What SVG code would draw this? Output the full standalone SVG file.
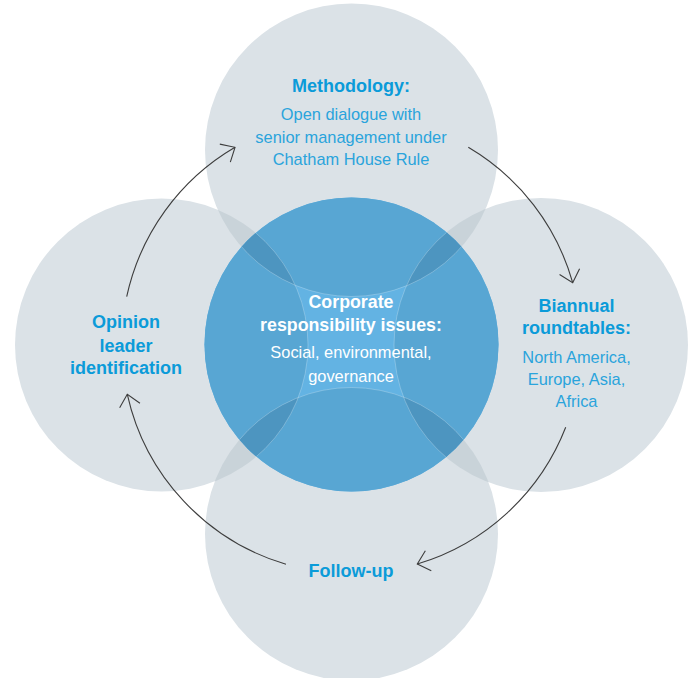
<svg xmlns="http://www.w3.org/2000/svg" width="689" height="678" viewBox="0 0 689 678">
  <style>
    .disc { fill: #dbe2e7; }
    .disc-pair { fill: #c9d3d9; }
    .core { fill: #63b3e3; }
    .core-one { fill: #58a6d3; }
    .core-two { fill: #4d95c0; }
    .seam { fill: none; stroke: #ffffff; stroke-opacity: 0.35; stroke-width: 0.7; }
    .head { font-family: "Liberation Sans", Arial, sans-serif; font-weight: bold; font-size: 18px; fill: #0b9bd9; text-anchor: middle; }
    .body { font-family: "Liberation Sans", Arial, sans-serif; font-size: 16.4px; fill: #2aa4dc; text-anchor: middle; }
    .core-head { font-family: "Liberation Sans", Arial, sans-serif; font-weight: bold; font-size: 17.8px; fill: #ffffff; text-anchor: middle; }
    .core-body { font-family: "Liberation Sans", Arial, sans-serif; font-size: 16.4px; fill: #ffffff; text-anchor: middle; }
    .flow { fill: none; stroke: #3d3d3d; stroke-width: 1.1; marker-end: url(#open-arrow); }
  </style>
  <defs>
    <clipPath id="clip-top"><circle cx="351.5" cy="150" r="146.5"/></clipPath>
    <clipPath id="clip-left"><circle cx="161.5" cy="345" r="146.5"/></clipPath>
    <clipPath id="clip-right"><circle cx="541" cy="345" r="147"/></clipPath>
    <clipPath id="clip-bottom"><circle cx="351.5" cy="534" r="146.5"/></clipPath>
    <clipPath id="clip-core"><circle cx="351.5" cy="344.5" r="147"/></clipPath>
    <marker id="open-arrow" markerUnits="userSpaceOnUse" markerWidth="30" markerHeight="30" refX="0" refY="0" viewBox="-16 -15 20 30" orient="auto" overflow="visible">
      <path d="M-11.5,-10.4 L0,0 L-11.5,10.4" fill="none" stroke="#3d3d3d" stroke-width="1.1"/>
    </marker>
  </defs>

  <!-- outer discs with their labels -->
  <g id="node-methodology">
    <circle class="disc" cx="351.5" cy="150" r="146.5"/>
    <text class="head" x="351" y="92">Methodology:</text>
    <text class="body" x="351" y="119.5">Open dialogue with</text>
    <text class="body" x="351" y="142.5">senior management under</text>
    <text class="body" x="351" y="165">Chatham House Rule</text>
  </g>
  <g id="node-opinion-leader">
    <circle class="disc" cx="161.5" cy="345" r="146.5"/>
    <text class="head" x="126" y="328.3">Opinion</text>
    <text class="head" x="126" y="351.7">leader</text>
    <text class="head" x="126" y="374.3">identification</text>
  </g>
  <g id="node-roundtables">
    <circle class="disc" cx="541" cy="345" r="147"/>
    <text class="head" x="576.5" y="311.7">Biannual</text>
    <text class="head" x="576.5" y="334.3">roundtables:</text>
    <text class="body" x="576.5" y="362.7">North America,</text>
    <text class="body" x="576.5" y="384.5">Europe, Asia,</text>
    <text class="body" x="576.5" y="406.7">Africa</text>
  </g>
  <g id="node-follow-up">
    <circle class="disc" cx="351.5" cy="534" r="146.5"/>
    <text class="head" x="351" y="577">Follow-up</text>
  </g>

  <!-- where neighbouring discs overlap -->
  <g id="disc-overlaps">
    <circle class="disc-pair" cx="351.5" cy="150" r="146.5" clip-path="url(#clip-left)"/>
    <circle class="disc-pair" cx="351.5" cy="150" r="146.5" clip-path="url(#clip-right)"/>
    <circle class="disc-pair" cx="351.5" cy="534" r="146.5" clip-path="url(#clip-left)"/>
    <circle class="disc-pair" cx="351.5" cy="534" r="146.5" clip-path="url(#clip-right)"/>
  </g>

  <!-- central disc, shaded where the outer discs cross it -->
  <g id="node-core">
    <circle class="core" cx="351.5" cy="344.5" r="147"/>
    <g clip-path="url(#clip-core)">
      <circle class="core-one" cx="351.5" cy="150" r="146.5"/>
      <circle class="core-one" cx="161.5" cy="345" r="146.5"/>
      <circle class="core-one" cx="541" cy="345" r="147"/>
      <circle class="core-one" cx="351.5" cy="534" r="146.5"/>
      <circle class="core-two" cx="351.5" cy="150" r="146.5" clip-path="url(#clip-left)"/>
      <circle class="core-two" cx="351.5" cy="150" r="146.5" clip-path="url(#clip-right)"/>
      <circle class="core-two" cx="351.5" cy="534" r="146.5" clip-path="url(#clip-left)"/>
      <circle class="core-two" cx="351.5" cy="534" r="146.5" clip-path="url(#clip-right)"/>
      <circle class="seam" cx="351.5" cy="150" r="146.5"/>
      <circle class="seam" cx="161.5" cy="345" r="146.5"/>
      <circle class="seam" cx="541" cy="345" r="147"/>
      <circle class="seam" cx="351.5" cy="534" r="146.5"/>
    </g>
    <text class="core-head" x="351" y="308">Corporate</text>
    <text class="core-head" x="351" y="330.5">responsibility issues:</text>
    <text class="core-body" x="351" y="358.3">Social, environmental,</text>
    <text class="core-body" x="351" y="381.5">governance</text>
  </g>

  <!-- clockwise cycle of arrows round the centre -->
  <g id="connectors">
    <path class="flow" d="M126.7,296.7 A229.5,229.5 0 0 1 235,147.3"/>
    <path class="flow" d="M468.3,147.3 A229.5,229.5 0 0 1 572.7,282.7"/>
    <path class="flow" d="M565.7,427.3 A229.5,229.5 0 0 1 417.3,564"/>
    <path class="flow" d="M286,564.3 A229.5,229.5 0 0 1 127.3,394.3"/>
  </g>
</svg>
